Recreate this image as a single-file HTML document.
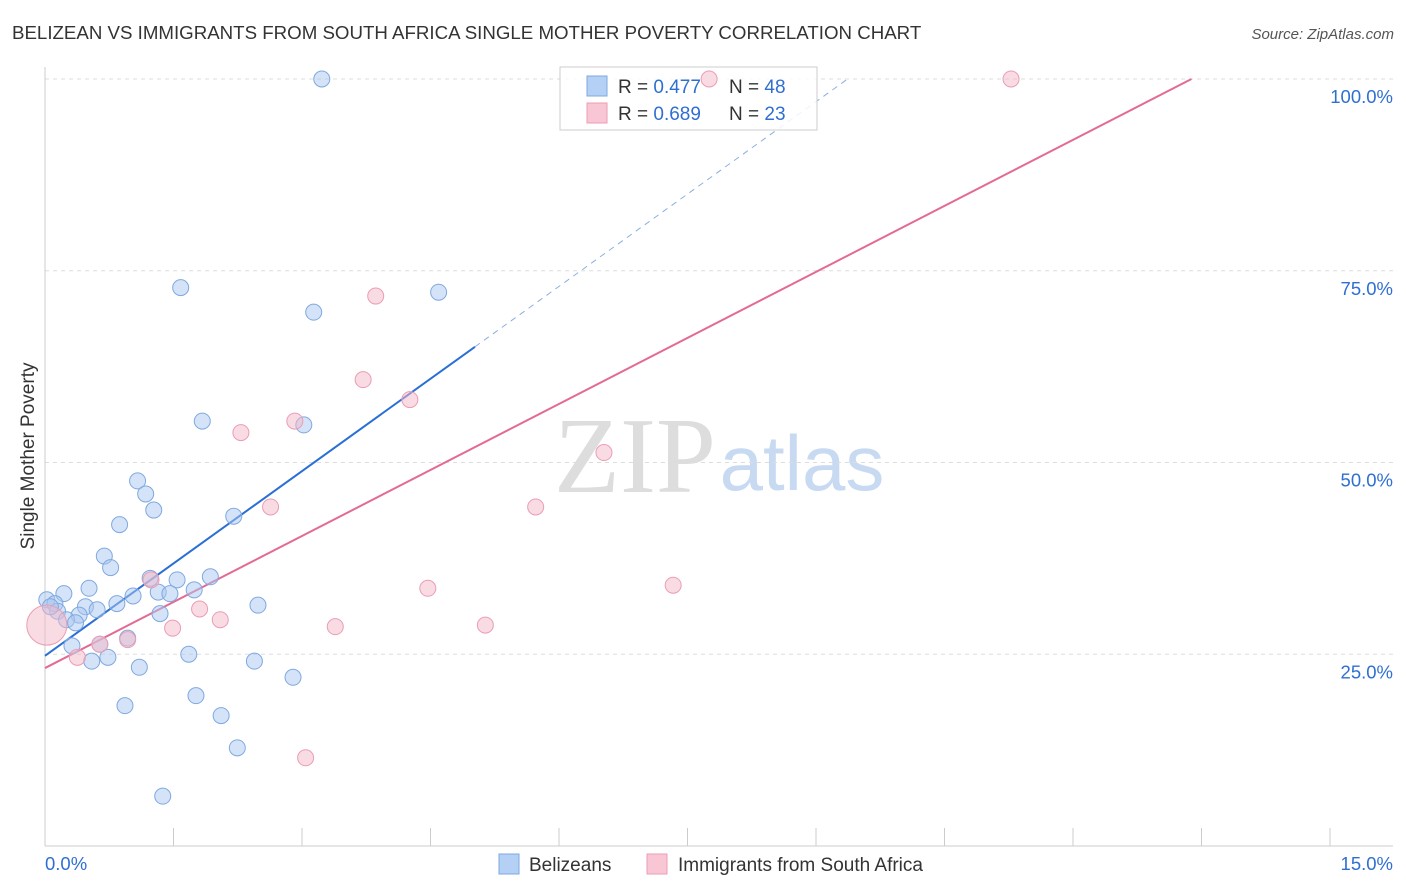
<!DOCTYPE html>
<html><head><meta charset="utf-8"><style>
body{margin:0;background:#fff;font-family:"Liberation Sans",sans-serif;}
svg{display:block}
</style></head><body>
<svg id="chart" width="1406" height="892" xmlns="http://www.w3.org/2000/svg">
<text x="12" y="39" font-size="18.7" fill="#333">BELIZEAN VS IMMIGRANTS FROM SOUTH AFRICA SINGLE MOTHER POVERTY CORRELATION CHART</text>
<text x="1394" y="39" font-size="15" fill="#555" text-anchor="end" font-style="italic">Source: ZipAtlas.com</text>
<text transform="translate(34,456) rotate(-90)" font-size="19" fill="#333" text-anchor="middle">Single Mother Poverty</text>
<g>
<text x="635" y="492" font-size="108" fill="#ddd" text-anchor="middle" font-family="Liberation Serif,serif">ZIP</text>
<text x="802" y="490" font-size="78" fill="#c8daf2" text-anchor="middle">atlas</text>
</g>
<g id="grid"></g>
<g id="axes"></g>
<g id="lines"></g>
<g>
<rect x="560" y="67" width="257" height="63" fill="#fff" fill-opacity="0.85" stroke="#ccc"/>
<rect x="587" y="76" width="20" height="20" fill="#b5d0f5" stroke="#7fa9e0"/>
<rect x="587" y="103" width="20" height="20" fill="#f8c6d4" stroke="#eb9db4"/>
<text x="618" y="93" font-size="19" fill="#333">R = <tspan fill="#2f6fd1">0.477</tspan></text>
<text x="729" y="93" font-size="19" fill="#333">N = <tspan fill="#2f6fd1">48</tspan></text>
<text x="618" y="120" font-size="19" fill="#333">R = <tspan fill="#2f6fd1">0.689</tspan></text>
<text x="729" y="120" font-size="19" fill="#333">N = <tspan fill="#2f6fd1">23</tspan></text>
</g>
<g id="points"></g>
<g>
<rect x="499" y="854" width="20" height="20" fill="#b5d0f5" stroke="#7fa9e0"/>
<text x="529" y="871" font-size="19" fill="#333">Belizeans</text>
<rect x="647" y="854" width="20" height="20" fill="#f8c6d4" stroke="#eb9db4"/>
<text x="678" y="871" font-size="19" fill="#333">Immigrants from South Africa</text>
</g>
</svg>
<script>
const blueX=[3.08,1.51,4.38,2.99,1.75,2.88,1.03,1.12,1.21,2.10,0.83,0.66,0.73,1.17,1.47,1.84,0.49,0.21,0.98,1.26,1.39,1.66,0.02,0.11,0.80,2.37,0.45,0.58,0.14,1.28,0.38,0.24,0.34,0.92,0.61,0.30,1.60,0.70,0.52,1.05,2.33,2.76,1.68,0.89,1.96,2.14,1.31,0.06];
const blueY=[100.0,72.8,72.2,69.6,55.4,54.9,47.6,45.9,43.8,43.0,41.9,37.8,36.3,34.9,34.7,35.1,33.6,32.9,32.6,33.1,32.9,33.4,32.1,31.6,31.6,31.4,31.2,30.8,30.6,30.3,30.1,29.5,29.1,27.1,26.3,26.1,25.0,24.6,24.1,23.3,24.1,22.0,19.6,18.3,17.0,12.8,6.5,31.2];
const pinkX=[10.75,7.39,3.68,3.54,4.06,2.78,2.18,6.22,2.51,5.46,1.18,4.26,6.99,1.72,1.95,1.42,3.23,4.90,0.92,0.61,0.36,2.90,0.02];
const pinkY=[100.0,100.0,71.7,60.8,58.2,55.4,53.9,51.3,44.2,44.2,34.7,33.6,34.0,30.9,29.5,28.4,28.6,28.8,26.9,26.3,24.6,11.5,28.8];
const blueTrend=[24.8,8.42];
const pinkTrend=[23.2,6.02];
const yTicks=[25,50,75,100];
const yTickLabels=["25.0%","50.0%","75.0%","100.0%"];
const xTickLabels=["0.0%","15.0%"];
const NS="http://www.w3.org/2000/svg";
const X0=45,X1=1393,Y0=846,Y100=79;
const sx=v=>X0+v/15*(X1-X0);
const sy=v=>Y0-v/100*(Y0-Y100);
function mk(tag,attrs,parent){const e=document.createElementNS(NS,tag);for(const k in attrs)e.setAttribute(k,attrs[k]);document.getElementById(parent).appendChild(e);return e;}
yTicks.forEach((t,i)=>{
 const l=mk('line',{x1:X0,x2:X1,y1:sy(t),y2:sy(t),stroke:'#ddd','stroke-dasharray':'4,4'},'grid');
 
 
 const tx=mk('text',{x:1393,y:sy(t)+24,'font-size':18.5,fill:'#2f6fd1','text-anchor':'end'},'grid');
 tx.textContent=yTickLabels[i];
 
 
});
let a=mk('line',{x1:X0,x2:X0,y1:67,y2:Y0,stroke:'#ccc'},'axes');


a=mk('line',{x1:X0,x2:X1,y1:Y0,y2:Y0,stroke:'#ccc'},'axes');


for(let i=1;i<=10;i++){const px=X0+i*128.5;
 const t=mk('line',{x1:px,x2:px,y1:828,y2:Y0,stroke:'#ccc'},'axes');
 
 }
let lx=mk('text',{x:45,y:870,'font-size':18.5,fill:'#2f6fd1'},'axes');lx.textContent=xTickLabels[0];


lx=mk('text',{x:1393,y:870,'font-size':18.5,fill:'#2f6fd1','text-anchor':'end'},'axes');lx.textContent=xTickLabels[1];


function pt(x,y,fill,stroke,r){const c=mk('circle',{cx:sx(x),cy:sy(y),r:r,fill:fill,'fill-opacity':0.5,stroke:stroke,'stroke-width':1},'points');return c;}
blueX.forEach((x,i)=>{const c=pt(x,blueY[i],'#a9c8f0','#7fa9e0',8);
 
 });
pinkX.forEach((x,i)=>{const c=pt(x,pinkY[i],'#f4b8c8','#eb9db4',i==pinkX.length-1?20:8);
 
 });
const bxEnd=4.785,bxDash=(100-blueTrend[0])/blueTrend[1];
let ln=mk('line',{x1:sx(0),y1:sy(blueTrend[0]),x2:sx(bxEnd),y2:sy(blueTrend[0]+blueTrend[1]*bxEnd),stroke:'#2a6fd6','stroke-width':2},'lines');


ln=mk('line',{x1:sx(bxEnd),y1:sy(blueTrend[0]+blueTrend[1]*bxEnd),x2:sx(bxDash),y2:sy(100),stroke:'#8ab0e0','stroke-width':1,'stroke-dasharray':'6,5'},'lines');


const pxEnd=(100-pinkTrend[0])/pinkTrend[1];
ln=mk('line',{x1:sx(0),y1:sy(pinkTrend[0]),x2:sx(pxEnd),y2:sy(100),stroke:'#e46a96','stroke-width':2},'lines');


</script>
</body></html>
